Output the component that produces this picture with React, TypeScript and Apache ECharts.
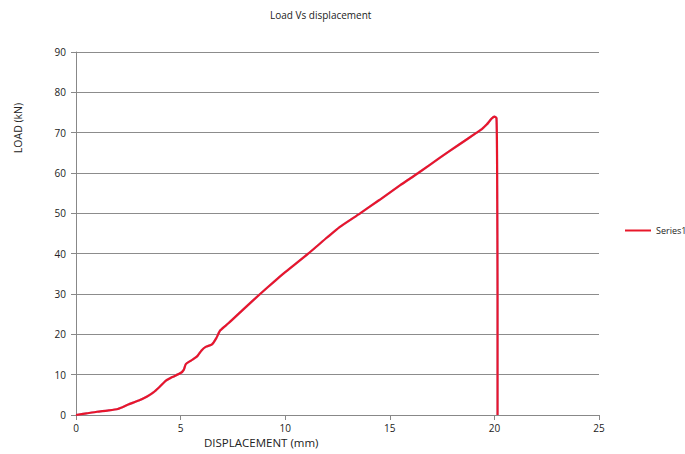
import React, { useEffect, useRef } from "react";
import * as echarts from "echarts";

// Displacement (mm) and load (kN) readings for the tensile test
const displacement = [
  0, 0.5, 1, 1.5, 2, 2.5, 3, 3.4, 3.7, 4.0, 4.3, 4.6, 5.0, 5.15, 5.25, 5.5, 5.8,
  6.0, 6.2, 6.5, 6.7, 6.9, 7.3, 8.0, 8.8, 9.5, 10, 11.1, 12.0, 12.6, 13.58, 14.5,
  15.5, 16.36, 17.4, 18.3, 19.15, 19.4, 19.63, 19.87, 20.0, 20.1, 20.13, 20.15, 20.15,
];
const load = [
  0, 0.4, 0.8, 1.1, 1.5, 2.6, 3.6, 4.6, 5.6, 7.0, 8.5, 9.4, 10.4, 11.2, 12.6, 13.5,
  14.6, 16.0, 16.9, 17.5, 19.0, 21.0, 22.8, 26.2, 30.0, 33.2, 35.4, 40, 44, 46.6, 50,
  53.3, 57, 60, 63.8, 67, 70, 70.9, 72.0, 73.5, 74.0, 73.6, 60, 30, 0,
];
const xTicks = [0, 25, 5];
const yTicks = [0, 90, 10];
const seriesName = "Series1";

export default function App() {
  const ref = useRef<HTMLDivElement>(null);

  useEffect(() => {
    document.body.style.margin = "0";
    if (!ref.current) return;
    const chart = echarts.init(ref.current, null, { renderer: "svg" });
    const font = "'Open Sans', 'Liberation Sans', sans-serif";
    chart.setOption({
      animation: false,
      backgroundColor: "#ffffff",
      title: {
        text: "Load Vs displacement",
        left: 265,
        top: 5,
        textStyle: { fontFamily: font, fontSize: 10, fontWeight: "normal", color: "#222" },
      },
      legend: {
        left: 620,
        top: 221,
        itemWidth: 26,
        itemHeight: 2,
        icon: "rect",
        itemGap: 4,
        textStyle: { fontFamily: font, fontSize: 9, color: "#222" },
        data: [seriesName],
      },
      grid: { left: 76, right: 86, top: 52, bottom: 39 },
      xAxis: {
        type: "value",
        min: xTicks[0],
        max: xTicks[1],
        interval: xTicks[2],
        axisLine: { lineStyle: { color: "#888", width: 1 } },
        axisTick: { show: true, length: 5, lineStyle: { color: "#888" } },
        axisLabel: { fontFamily: font, fontSize: 10, color: "#222", margin: 8 },
        splitLine: { show: false },
      },
      yAxis: {
        type: "value",
        min: yTicks[0],
        max: yTicks[1],
        interval: yTicks[2],
        axisLine: { show: true, lineStyle: { color: "#888", width: 1 } },
        axisTick: { show: true, length: 5, lineStyle: { color: "#888" } },
        axisLabel: { fontFamily: font, fontSize: 10, color: "#222", margin: 10 },
        splitLine: { show: true, lineStyle: { color: "#8c8c8c", width: 1 } },
      },
      graphic: [
        {
          type: "text",
          left: 204,
          top: 436,
          style: { text: "DISPLACEMENT (mm)", fontFamily: font, fontSize: 11.5, fill: "#222" },
        },
        {
          type: "text",
          x: 18,
          y: 128,
          rotation: Math.PI / 2,
          style: {
            text: "LOAD (kN)",
            fontFamily: font,
            fontSize: 10.5,
            fill: "#222",
            align: "center",
            verticalAlign: "middle",
          },
        },
      ],
      series: [
        {
          name: seriesName,
          type: "line",
          data: displacement.map((x, i) => [x, load[i]]),
          showSymbol: false,
          smooth: 0.2,
          lineStyle: {
            color: "#e8182a",
            width: 2.2,
            shadowColor: "rgba(70,90,160,0.55)",
            shadowBlur: 1.5,
          },
          itemStyle: { color: "#e8182a" },
        },
      ],
    });
    return () => chart.dispose();
  }, []);

  return <div ref={ref} style={{ width: 685, height: 454 }} />;
}
